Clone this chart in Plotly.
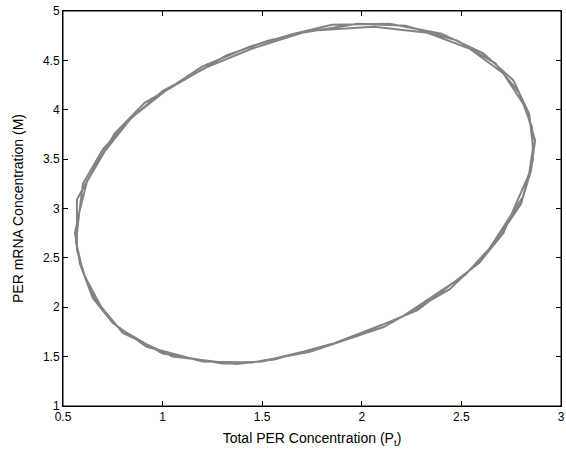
import plotly.graph_objects as go

# Limit-cycle trajectory, three successive turns
loop1_pt = [0.58, 0.60, 0.70, 0.85, 1.02, 1.20, 1.44, 1.66, 1.85, 2.14, 2.40, 2.61, 2.76, 2.84, 2.86,
            2.84, 2.71, 2.59, 2.28, 1.92, 1.56, 1.37, 1.05, 0.80, 0.69, 0.61, 0.57]
loop1_m = [2.93, 3.25, 3.60, 3.93, 4.20, 4.44, 4.64, 4.77, 4.86, 4.87, 4.77, 4.57, 4.30, 3.96, 3.62,
           3.35, 2.75, 2.45, 1.97, 1.67, 1.47, 1.425, 1.50, 1.74, 2.01, 2.31, 2.58]

loop2_pt = [0.57, 0.66, 0.76, 0.91, 1.12, 1.32, 1.53, 1.74, 2.06, 2.33, 2.54, 2.71, 2.82, 2.87, 2.85,
            2.81, 2.62, 2.44, 2.11, 1.74, 1.45, 1.20, 0.92, 0.75, 0.65, 0.585, 0.56]
loop2_m = [3.09, 3.42, 3.76, 4.07, 4.32, 4.55, 4.70, 4.80, 4.84, 4.78, 4.62, 4.37, 4.03, 3.69, 3.39,
           3.12, 2.53, 2.18, 1.80, 1.55, 1.44, 1.45, 1.60, 1.84, 2.09, 2.44, 2.75]

loop3_pt = [0.58, 0.62, 0.71, 0.84, 1.00, 1.22, 1.45, 1.70, 1.98, 2.22, 2.48, 2.67, 2.79, 2.855, 2.86,
            2.80, 2.67, 2.52, 2.20, 1.83, 1.50, 1.30, 1.00, 0.78, 0.67, 0.60, 0.565, 0.58]
loop3_m = [2.95, 3.27, 3.58, 3.91, 4.19, 4.43, 4.62, 4.78, 4.87, 4.85, 4.70, 4.47, 4.17, 3.82, 3.50,
           3.05, 2.66, 2.33, 1.90, 1.61, 1.45, 1.43, 1.53, 1.79, 2.05, 2.36, 2.66, 2.93]

x_ticks = [0.5, 1, 1.5, 2, 2.5, 3]
x_tick_labels = ["0.5", "1", "1.5", "2", "2.5", "3"]
y_ticks = [1, 1.5, 2, 2.5, 3, 3.5, 4, 4.5, 5]
y_tick_labels = ["1", "1.5", "2", "2.5", "3", "3.5", "4", "4.5", "5"]

pt = loop1_pt + loop2_pt + loop3_pt
m = loop1_m + loop2_m + loop3_m

fig = go.Figure()
fig.add_trace(go.Scatter(x=pt, y=m, mode="lines",
                         line=dict(color="#838383", width=2),
                         showlegend=False, hoverinfo="skip"))

axis_common = dict(showgrid=False, zeroline=False, showline=True, linecolor="black", linewidth=1,
                   mirror="ticks", ticks="inside", ticklen=5, tickcolor="black", automargin=False,
                   tickfont=dict(family="Liberation Sans, Arial, sans-serif", size=12, color="black"))

fig.update_layout(
    width=566, height=455,
    margin=dict(l=63, r=5, t=11, b=49),
    paper_bgcolor="white", plot_bgcolor="white",
    font=dict(family="Liberation Sans, Arial, sans-serif", size=12, color="black"),
    xaxis=dict(range=[0.5, 3], tickvals=x_ticks, ticktext=x_tick_labels,
               title=dict(text="Total PER Concentration (P<sub>t</sub>)", standoff=9), **axis_common),
    yaxis=dict(range=[1, 5], tickvals=y_ticks, ticktext=y_tick_labels,
               title=dict(text="PER mRNA Concentration (M)", standoff=16), **axis_common),
    shapes=[dict(type="rect", xref="paper", yref="paper", x0=0, y0=0, x1=1, y1=1,
                 line=dict(color="black", width=1), layer="above")],
)

fig.write_html("out.html", config={"displayModeBar": False},
               post_script="document.body.style.margin='0';document.body.style.overflow='hidden';")
